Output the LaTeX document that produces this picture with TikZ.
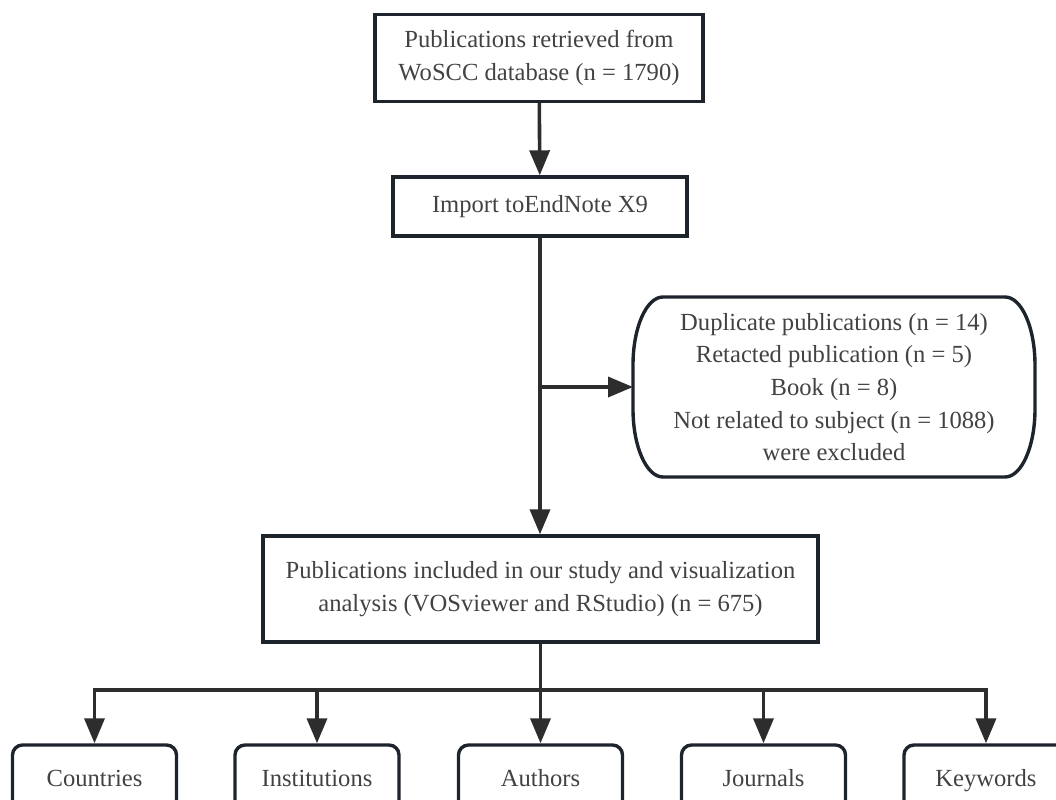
\documentclass[tikz,border=0pt]{standalone}
\usepackage{fontspec}
\setmainfont{Liberation Serif}
\usetikzlibrary{arrows.meta}
\definecolor{L}{RGB}{45, 45, 45}
\definecolor{E}{RGB}{30, 36, 44}
\definecolor{T}{RGB}{66, 66, 66}

\begin{document}
\begin{tikzpicture}[x=0.5pt, y=-0.5pt,
  box/.style={draw=E, line width=1.7pt, text=T, align=center, inner sep=0pt,
    font=\fontsize{12.3}{16.3}\selectfont},
  leaf/.style={box, rounded corners=5pt, minimum width=82pt, minimum height=35pt,
    text height=9pt, text depth=3pt},
  line/.style={L, line width=1.8pt},
  arr/.style={line, -{Triangle[length=12.5pt, width=10pt]}}]
  \useasboundingbox (0,0) rectangle (1056,799);
  % boxes
  \node[box, minimum width=164pt, minimum height=43.5pt] (pub) at (539,58)
    {Publications retrieved from\\WoSCC database (n = 1790)};
  \node[box, minimum width=147pt, minimum height=29.5pt] (imp) at (540,206.5)
    {Import toEndNote X9};
  \node[box, draw=none, outer sep=0pt, minimum width=201pt, minimum height=90pt] (excl) at (834,387)
    {Duplicate publications (n = 14)\\Retacted publication (n = 5)\\Book (n = 8)\\Not related to subject (n = 1088)\\were excluded};
  \draw[E, line width=1.7pt] ([xshift=15pt]excl.north west) -- ([xshift=-15pt]excl.north east)
    arc[start angle=90, end angle=0, x radius=15pt, y radius=34pt] -- ([yshift=34pt]excl.south east)
    arc[start angle=0, end angle=-90, x radius=15pt, y radius=34pt] -- ([xshift=15pt]excl.south west)
    arc[start angle=270, end angle=180, x radius=15pt, y radius=34pt] -- ([yshift=-34pt]excl.north west)
    arc[start angle=180, end angle=90, x radius=15pt, y radius=34pt] -- cycle;
  \node[box, minimum width=277.5pt, minimum height=53pt] (incl) at (540.5,589)
    {Publications included in our study and visualization\\analysis (VOSviewer and RStudio) (n = 675)};
  \node[leaf] (ctr) at (94.5,780) {Countries};
  \node[leaf] (inst) at (317,780) {Institutions};
  \node[leaf] (auth) at (540.5,780) {Authors};
  \node[leaf] (jour) at (763.5,780) {Journals};
  \node[leaf] (kw) at (986,780) {Keywords};
  % connectors
  \coordinate (split) at (imp.south |- excl.west);
  \coordinate (bar) at (540.5,690);
  \draw[arr] (pub) -- (imp);
  \draw[arr] (imp.south) -- (imp.south |- incl.north);
  \draw[arr] (split) -- (excl.west);
  \draw[line] (incl.south) -- (bar);
  \foreach \n in {ctr, inst, auth, jour, kw}
    \draw[arr] (bar) -| (\n.north);
\end{tikzpicture}
\end{document}
